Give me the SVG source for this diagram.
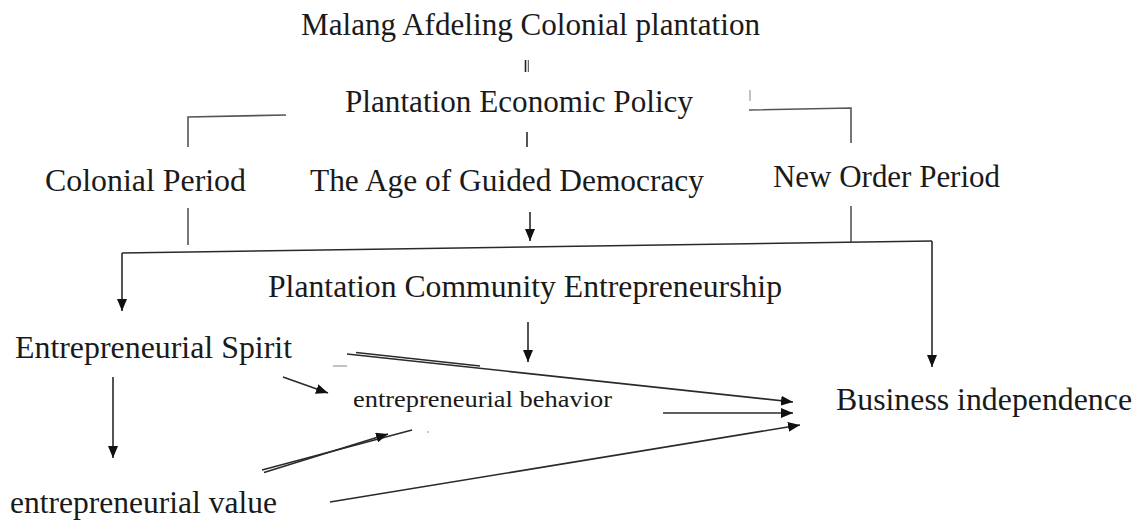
<svg xmlns="http://www.w3.org/2000/svg" width="1138" height="520" viewBox="0 0 1138 520">
  <style>
    .t { font-family: "Liberation Serif", "Times New Roman", serif; fill: #1a1a1a; }
    .big { font-size: 32px; }
    .mid { font-size: 23px; }
    .ln { fill: none; stroke: #2a2a2a; stroke-width: 1.6; }
    .gr { fill: none; stroke: #555; stroke-width: 1.6; }
    .faint { fill: none; stroke: #999; stroke-width: 1.2; }
    .arr { marker-end: url(#ah); }
  </style>
  <defs>
    <marker id="ah" viewBox="0 0 12 10" refX="12" refY="5" markerWidth="12" markerHeight="10" orient="auto" markerUnits="userSpaceOnUse">
      <path d="M0,0 L12,5 L0,10 Z" fill="#111"/>
    </marker>
  </defs>

  <rect width="1138" height="520" fill="#fff"/>

  <!-- nodes -->
  <g id="malang">
    <text class="t big" x="301" y="35" textLength="459" lengthAdjust="spacingAndGlyphs">Malang Afdeling Colonial plantation</text>
  </g>
  <g id="policy">
    <text class="t big" x="345" y="112" textLength="348" lengthAdjust="spacingAndGlyphs">Plantation Economic Policy</text>
  </g>
  <g id="colonial-period">
    <text class="t big" x="45" y="191" textLength="201" lengthAdjust="spacingAndGlyphs">Colonial Period</text>
  </g>
  <g id="guided-democracy">
    <text class="t big" x="310" y="191" textLength="394" lengthAdjust="spacingAndGlyphs">The Age of Guided Democracy</text>
  </g>
  <g id="new-order">
    <text class="t big" x="773" y="187" textLength="227" lengthAdjust="spacingAndGlyphs">New Order Period</text>
  </g>
  <g id="community">
    <text class="t big" x="268" y="297" textLength="514" lengthAdjust="spacingAndGlyphs">Plantation Community Entrepreneurship</text>
  </g>
  <g id="spirit">
    <text class="t big" x="15" y="358" textLength="277" lengthAdjust="spacingAndGlyphs">Entrepreneurial Spirit</text>
  </g>
  <g id="behavior">
    <text class="t mid" x="353" y="407" textLength="259" lengthAdjust="spacingAndGlyphs">entrepreneurial behavior</text>
  </g>
  <g id="independence">
    <text class="t big" x="836" y="410" textLength="296" lengthAdjust="spacingAndGlyphs">Business independence</text>
  </g>
  <g id="value">
    <text class="t big" x="10" y="513" textLength="267" lengthAdjust="spacingAndGlyphs">entrepreneurial value</text>
  </g>

  <!-- connectors -->
  <g id="connectors">
    <!-- double stroke between the two headings -->
    <line x1="525.5" y1="60" x2="525.5" y2="72" stroke="#222" stroke-width="1.6"/>
    <line x1="528.3" y1="60" x2="528.3" y2="72" stroke="#444" stroke-width="1"/>

    <!-- branches out of the policy -->
    <polyline class="gr" points="286,115 188,117 188,147"/>
    <line class="faint" x1="750" y1="90" x2="750" y2="101"/>
    <polyline class="gr" points="749,110 851,108 851,143"/>
    <line class="ln" x1="527" y1="132" x2="527" y2="147"/>

    <!-- from the periods down to the shared line -->
    <line class="gr" x1="188" y1="208" x2="188" y2="245"/>
    <line class="gr" x1="851" y1="206" x2="851" y2="242"/>
    <line class="ln arr" x1="530" y1="212" x2="530" y2="241"/>

    <!-- shared line with its two drops -->
    <polyline class="ln" points="122,253 932,241"/>
    <line class="ln arr" x1="122" y1="253" x2="122" y2="311"/>
    <line class="ln arr" x1="932" y1="241" x2="932" y2="367"/>

    <!-- community to behavior -->
    <line class="ln arr" x1="528" y1="322" x2="528" y2="362"/>

    <!-- spirit to value -->
    <line class="ln arr" x1="113" y1="377" x2="113" y2="458"/>

    <!-- spirit to behavior -->
    <line class="ln arr" x1="283" y1="377" x2="328" y2="393"/>

    <!-- spirit to independence -->
    <line class="faint" x1="333" y1="366" x2="347" y2="366"/>
    <line class="ln" x1="356" y1="352.5" x2="480" y2="366"/>
    <line class="ln arr" x1="347" y1="354" x2="793" y2="402"/>

    <!-- behavior to independence -->
    <line class="ln arr" x1="663" y1="413" x2="793" y2="413"/>

    <!-- value to behavior (doubled stroke) -->
    <line class="ln" x1="262" y1="470" x2="412" y2="430"/>
    <line class="ln arr" x1="264" y1="472.5" x2="388" y2="434"/>
    <circle cx="428" cy="432" r="0.8" fill="#888"/>

    <!-- value to independence -->
    <line class="ln arr" x1="330" y1="502" x2="800" y2="425"/>
  </g>
</svg>
